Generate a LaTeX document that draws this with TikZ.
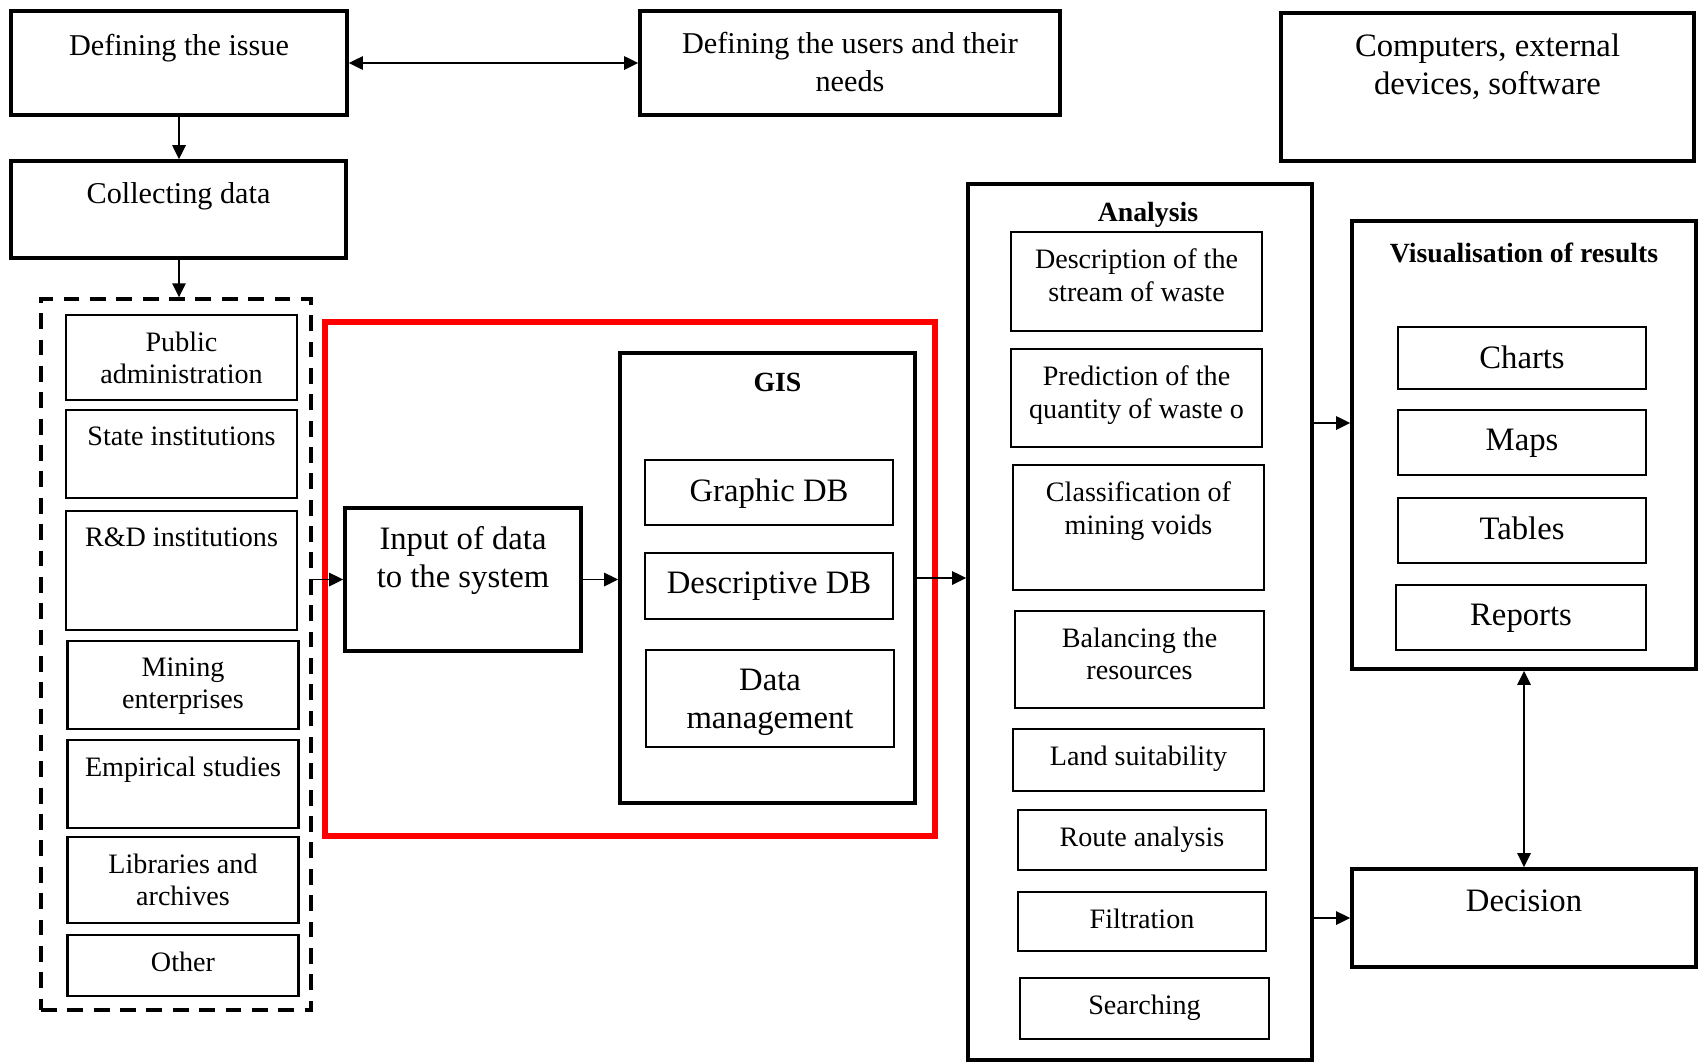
\documentclass[tikz,border=0pt]{standalone}
\usepackage{fontspec}
\setmainfont{Liberation Serif}
\usetikzlibrary{arrows.meta}

\tikzset{
  bigbox/.style={draw, line width=1.05pt, inner sep=0pt},
  smallbox/.style={draw, line width=0.6pt, inner sep=0pt},
  srcframe/.style={draw, dash pattern=on 4.5pt off 3pt, line width=0.95pt, inner sep=0pt},
  redframe/.style={draw=red, line width=1.8pt, inner sep=0pt},
  lab/.style={anchor=north, inner sep=0pt, align=center},
  stxt/.style={lab, font=\fontsize{8}{9.3}\selectfont, yshift=-0.17cm},
  mtxt/.style={lab, font=\fontsize{8.6}{10.8}\selectfont, yshift=-0.23cm},
  ltxt/.style={lab, font=\fontsize{9.3}{10.8}\selectfont, yshift=-0.19cm},
  btxt/.style={lab, font=\bfseries\fontsize{7.9}{9.3}\selectfont, yshift=-0.21cm},
  flow/.style={-{Triangle[length=4pt,width=3.8pt]}, line width=0.55pt},
  twoway/.style={{Triangle[length=4pt,width=3.8pt]}-{Triangle[length=4pt,width=3.8pt]}, line width=0.55pt}
}

\begin{document}
\begin{tikzpicture}[x=1cm,y=-1cm]
    \useasboundingbox (0,0) rectangle (17.01,10.62);

    % Top row
    \node[bigbox, minimum width=3.36cm, minimum height=1.04cm,
      label={[mtxt, yshift=-0.01cm]north:Defining the issue}] (issue) at (1.79,0.63) {};
    \node[bigbox, minimum width=4.20cm, minimum height=1.04cm,
      label={[mtxt, yshift=0.01cm]north:{Defining the users and their\\needs}}] (users) at (8.50,0.63) {};
    \node[bigbox, minimum width=4.13cm, minimum height=1.48cm,
      label={[ltxt, yshift=-0.03cm]north:{Computers, external\\devices, software}}] (computers) at (14.875,0.87) {};
    \node[bigbox, minimum width=3.35cm, minimum height=0.97cm,
      label={[mtxt]north:Collecting data}] (collect) at (1.785,2.095) {};

    % Data sources
    \node[srcframe, minimum width=2.70cm, minimum height=7.11cm] (sources) at (1.76,6.545) {};
    \node[smallbox, minimum width=2.31cm, minimum height=0.85cm,
      label={[stxt]north:{Public\\administration}}] (public) at (1.815,3.575) {};
    \node[smallbox, minimum width=2.31cm, minimum height=0.88cm,
      label={[stxt]north:State institutions}] (state) at (1.815,4.54) {};
    \node[smallbox, minimum width=2.31cm, minimum height=1.19cm,
      label={[stxt]north:R\&D institutions}] (rnd) at (1.815,5.705) {};
    \node[smallbox, minimum width=2.31cm, minimum height=0.88cm,
      label={[stxt]north:{Mining\\enterprises}}] (mining) at (1.83,6.85) {};
    \node[smallbox, minimum width=2.31cm, minimum height=0.88cm,
      label={[stxt]north:Empirical studies}] (empirical) at (1.83,7.84) {};
    \node[smallbox, minimum width=2.31cm, minimum height=0.86cm,
      label={[stxt]north:{Libraries and\\archives}}] (libraries) at (1.83,8.80) {};
    \node[smallbox, minimum width=2.31cm, minimum height=0.61cm,
      label={[stxt]north:Other}] (other) at (1.83,9.655) {};

    % Highlighted part: input and GIS
    \node[redframe, minimum width=6.10cm, minimum height=5.14cm] (focus) at (6.30,5.79) {};
    \node[bigbox, minimum width=2.36cm, minimum height=1.43cm,
      label={[ltxt, yshift=-0.01cm]north:{Input of data\\to the system}}] (input) at (4.63,5.795) {};
    \node[bigbox, minimum width=2.95cm, minimum height=4.50cm,
      label={[btxt, xshift=0.1cm]north:GIS}] (gis) at (7.675,5.78) {};
    \node[smallbox, minimum width=2.48cm, minimum height=0.65cm,
      label={[ltxt]north:Graphic DB}] (graphic) at (7.69,4.925) {};
    \node[smallbox, minimum width=2.48cm, minimum height=0.66cm,
      label={[ltxt]north:Descriptive DB}] (descriptive) at (7.69,5.86) {};
    \node[smallbox, minimum width=2.48cm, minimum height=0.97cm,
      label={[ltxt]north:{Data\\management}}] (datamgmt) at (7.70,6.985) {};

    % Analysis
    \node[bigbox, minimum width=3.44cm, minimum height=8.76cm,
      label={[btxt, xshift=0.08cm, yshift=0.02cm]north:Analysis}] (analysis) at (11.40,6.22) {};
    \node[smallbox, minimum width=2.51cm, minimum height=0.99cm,
      label={[stxt]north:{Description of the\\stream of waste}}] (descr) at (11.365,2.815) {};
    \node[smallbox, minimum width=2.51cm, minimum height=0.98cm,
      label={[stxt]north:{Prediction of the\\quantity of waste o}}] (predict) at (11.365,3.98) {};
    \node[smallbox, minimum width=2.51cm, minimum height=1.25cm,
      label={[stxt]north:{Classification of\\mining voids}}] (classif) at (11.385,5.275) {};
    \node[smallbox, minimum width=2.49cm, minimum height=0.97cm,
      label={[stxt]north:{Balancing the\\resources}}] (balance) at (11.395,6.595) {};
    \node[smallbox, minimum width=2.51cm, minimum height=0.62cm,
      label={[stxt]north:Land suitability}] (land) at (11.385,7.60) {};
    \node[smallbox, minimum width=2.48cm, minimum height=0.60cm,
      label={[stxt]north:Route analysis}] (route) at (11.42,8.40) {};
    \node[smallbox, minimum width=2.48cm, minimum height=0.59cm,
      label={[stxt]north:Filtration}] (filter) at (11.42,9.215) {};
    \node[smallbox, minimum width=2.49cm, minimum height=0.61cm,
      label={[stxt]north:Searching}] (search) at (11.445,10.085) {};

    % Results
    \node[bigbox, minimum width=3.44cm, minimum height=4.48cm,
      label={[btxt, yshift=-0.02cm]north:Visualisation of results}] (vis) at (15.24,4.45) {};
    \node[smallbox, minimum width=2.48cm, minimum height=0.62cm,
      label={[ltxt]north:Charts}] (charts) at (15.22,3.58) {};
    \node[smallbox, minimum width=2.48cm, minimum height=0.65cm,
      label={[ltxt]north:Maps}] (maps) at (15.22,4.425) {};
    \node[smallbox, minimum width=2.48cm, minimum height=0.65cm,
      label={[ltxt]north:Tables}] (tables) at (15.22,5.305) {};
    \node[smallbox, minimum width=2.50cm, minimum height=0.65cm,
      label={[ltxt]north:Reports}] (reports) at (15.21,6.175) {};
    \node[bigbox, minimum width=3.44cm, minimum height=0.98cm,
      label={[ltxt, yshift=-0.03cm]north:Decision}] (decision) at (15.24,9.18) {};

    % Connectors
    \coordinate (visin) at ([yshift=0.22cm]vis.west);
    \draw[twoway] (issue.east) -- (users.west);
    \draw[flow] (issue.south) -- (issue.south |- collect.north);
    \draw[flow] (issue.south |- collect.south) -- (issue.south |- sources.north);
    \draw[flow] (sources.east |- input.west) -- (input.west);
    \draw[flow] (input.east) -- (gis.west |- input.east);
    \draw[flow] (gis.east) -- (analysis.west |- gis.east);
    \draw[flow] (analysis.east |- visin) -- (visin);
    \draw[flow] (analysis.east |- decision.west) -- (decision.west);
    \draw[twoway] (vis.south) -- (decision.north);
\end{tikzpicture}
\end{document}
